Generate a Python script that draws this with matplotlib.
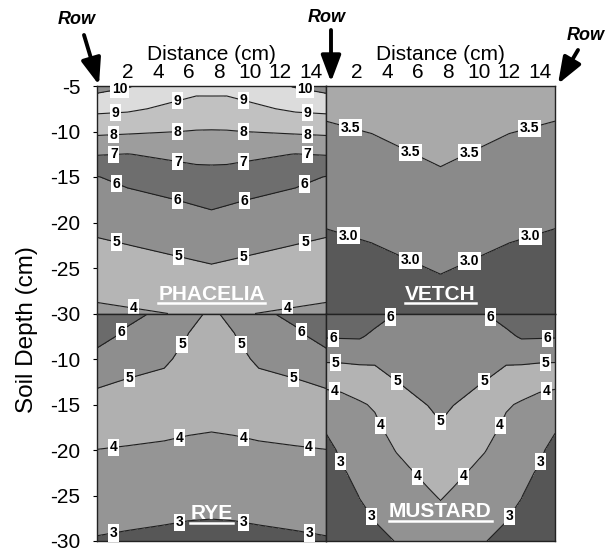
import numpy as np
import matplotlib
matplotlib.use("Agg")
import matplotlib.pyplot as plt
from matplotlib.patches import FancyArrowPatch
from matplotlib.lines import Line2D

plt.rcParams['font.family'] = ['Liberation Sans', 'DejaVu Sans']
plt.rcParams['axes.unicode_minus'] = False

# Sampling depths (cm), shared by all four plots, top to bottom
depth = [-5, -7.5, -10, -12.5, -15, -17.5, -20, -22.5, -25, -27.5, -30]

# ---- Phacelia ----
phacelia_x = [0, 2, 6.5, 7.5, 8.5, 13, 15]
phacelia_z = [
    [10.36, 10.07, 9.29, 9.30, 9.29, 10.07, 10.36],
    [9.23, 9.15, 8.63, 8.62, 8.63, 9.15, 9.23],
    [8.20, 8.13, 7.96, 7.95, 7.96, 8.13, 8.20],
    [7.05, 6.98, 7.27, 7.27, 7.27, 6.98, 7.05],
    [5.97, 6.24, 6.67, 6.70, 6.67, 6.24, 5.97],
    [5.60, 5.74, 6.11, 6.20, 6.11, 5.74, 5.60],
    [5.24, 5.36, 5.68, 5.75, 5.68, 5.36, 5.24],
    [4.875, 4.99, 5.27, 5.34, 5.27, 4.99, 4.875],
    [4.53, 4.62, 4.87, 4.93, 4.87, 4.62, 4.53],
    [4.18, 4.26, 4.47, 4.52, 4.47, 4.26, 4.18],
    [3.83, 3.90, 4.07, 4.10, 4.07, 3.90, 3.83],
]
phacelia_bands = [3, 4, 5, 6, 7, 8, 9, 10, 11]
phacelia_colors = ['#9a9a9a', '#b5b5b5', '#8f8f8f', '#6e6e6e', '#9d9d9d',
                   '#c1c1c1', '#dcdcdc', '#8e8e8e']
phacelia_lines = [4, 5, 6, 7, 8, 9, 10]
phacelia_labels = {
    10: [(1.5, -5.6), (13.6, -5.6)],
    9: [(1.2, -8.1), (5.3, -6.7), (9.6, -6.7), (13.8, -8.1)],
    8: [(1.1, -10.3), (5.3, -10.1), (9.6, -10.1), (13.8, -10.3)],
    7: [(1.1, -12.5), (5.3, -13.3), (9.6, -13.3), (13.8, -12.5)],
    6: [(1.4, -15.3), (5.3, -17.4), (9.6, -17.4), (13.5, -15.3)],
    5: [(1.3, -22.0), (5.3, -23.8), (9.6, -23.8), (13.6, -22.0)],
    4: [(2.4, -29.4), (12.5, -29.4)],
}

# ---- Vetch ----
vetch_x = [0, 3, 7.5, 12, 15]
vetch_z = [
    [3.67, 3.72, 3.87, 3.72, 3.67],
    [3.56, 3.61, 3.77, 3.61, 3.56],
    [3.45, 3.51, 3.66, 3.51, 3.45],
    [3.35, 3.40, 3.56, 3.40, 3.35],
    [3.24, 3.30, 3.45, 3.30, 3.24],
    [3.14, 3.20, 3.34, 3.20, 3.14],
    [3.03, 3.09, 3.24, 3.09, 3.03],
    [2.92, 2.99, 3.13, 2.99, 2.92],
    [2.82, 2.88, 3.03, 2.88, 2.82],
    [2.71, 2.78, 2.92, 2.78, 2.71],
    [2.61, 2.68, 2.81, 2.68, 2.61],
]
vetch_bands = [2.5, 3.0, 3.5, 4.0]
vetch_colors = ['#595959', '#8a8a8a', '#a9a9a9']
vetch_lines = [3.0, 3.5]
vetch_labels = {
    3.5: [(1.6, -9.6), (5.5, -12.4), (9.4, -12.4), (13.3, -9.6)],
    3.0: [(1.5, -21.4), (5.5, -24.2), (9.4, -24.2), (13.4, -21.4)],
}

# ---- Rye ----
rye_x = [0, 2, 4.4, 6, 7.5, 9, 10.6, 13, 15]
rye_z = [
    [6.90, 6.25, 5.81, 5.19, 4.90, 5.19, 5.81, 6.25, 6.90],
    [6.31, 5.81, 5.47, 4.97, 4.73, 4.97, 5.47, 5.81, 6.31],
    [5.71, 5.37, 5.13, 4.75, 4.56, 4.75, 5.13, 5.37, 5.71],
    [5.12, 4.94, 4.81, 4.53, 4.39, 4.53, 4.81, 4.94, 5.12],
    [4.71, 4.60, 4.49, 4.31, 4.22, 4.31, 4.49, 4.60, 4.71],
    [4.35, 4.26, 4.18, 4.09, 4.05, 4.09, 4.18, 4.26, 4.35],
    [3.99, 3.94, 3.88, 3.84, 3.81, 3.84, 3.88, 3.94, 3.99],
    [3.73, 3.68, 3.61, 3.57, 3.54, 3.57, 3.61, 3.68, 3.73],
    [3.46, 3.41, 3.34, 3.30, 3.28, 3.30, 3.34, 3.41, 3.46],
    [3.20, 3.14, 3.08, 3.03, 3.01, 3.03, 3.08, 3.14, 3.20],
    [2.94, 2.88, 2.81, 2.76, 2.74, 2.76, 2.81, 2.88, 2.94],
]
rye_bands = [2, 3, 4, 5, 6, 7]
rye_colors = ['#575757', '#959595', '#b0b0b0', '#8e8e8e', '#6b6b6b']
rye_lines = [3, 4, 5, 6]
rye_labels = {
    6: [(1.9, -7.6), (13.1, -7.6)],
    5: [(5.4, -8.2), (2.1, -12.0), (9.6, -8.2), (12.9, -12.0)],
    4: [(1.1, -19.6), (5.4, -18.7), (9.6, -18.7), (13.9, -19.6)],
    3: [(1.1, -29.1), (5.4, -27.9), (9.6, -27.9), (13.9, -29.1)],
}

# ---- Mustard ----
mustard_x = [0, 1, 2.2, 3.2, 4.6, 6.7, 7.5, 8.3, 10.4, 11.8, 12.8, 14, 15]
mustard_z = [
    [6.95, 7.01, 7.03, 6.41, 5.98, 5.81, 5.78, 5.81, 5.98, 6.41, 7.03, 7.01, 6.95],
    [6.07, 6.09, 6.11, 5.78, 5.66, 5.61, 5.62, 5.61, 5.66, 5.78, 6.11, 6.09, 6.07],
    [5.15, 5.17, 5.19, 5.15, 5.32, 5.42, 5.46, 5.42, 5.32, 5.15, 5.19, 5.17, 5.15],
    [4.19, 4.20, 4.44, 4.60, 4.99, 5.22, 5.30, 5.22, 4.99, 4.60, 4.44, 4.20, 4.19],
    [3.62, 3.77, 3.91, 4.09, 4.67, 5.02, 5.14, 5.02, 4.67, 4.09, 3.91, 3.77, 3.62],
    [3.13, 3.47, 3.69, 3.83, 4.35, 4.75, 4.95, 4.75, 4.35, 3.83, 3.69, 3.47, 3.13],
    [2.65, 3.18, 3.47, 3.63, 4.03, 4.47, 4.65, 4.47, 4.03, 3.63, 3.47, 3.18, 2.65],
    [2.17, 2.89, 3.25, 3.43, 3.77, 4.18, 4.36, 4.18, 3.77, 3.43, 3.25, 2.89, 2.17],
    [1.69, 2.60, 3.03, 3.23, 3.52, 3.91, 4.06, 3.91, 3.52, 3.23, 3.03, 2.60, 1.69],
    [1.21, 2.31, 2.81, 3.03, 3.27, 3.65, 3.79, 3.65, 3.27, 3.03, 2.81, 2.31, 1.21],
    [0.73, 2.01, 2.59, 2.83, 3.02, 3.39, 3.53, 3.39, 3.02, 2.83, 2.59, 2.01, 0.73],
]
mustard_bands = [0, 3, 4, 5, 6, 7.5]
mustard_colors = ['#565656', '#929292', '#b3b3b3', '#8a8a8a', '#686868']
mustard_lines = [3, 4, 5, 6]
mustard_labels = {
    6: [(4.3, -5.6), (0.5, -7.7), (10.7, -5.6), (14.5, -7.7)],
    5: [(0.6, -10.4), (4.7, -12.3), (7.5, -17.2), (10.3, -12.3), (14.4, -10.4)],
    4: [(0.6, -13.0), (3.7, -17.2), (6.0, -22.9), (9.0, -22.9), (11.3, -17.2), (14.4, -13.0)],
    3: [(0.9, -21.3), (2.9, -27.4), (12.1, -27.4), (14.1, -21.3)],
}

panels = [
    ("PHACELIA", phacelia_x, phacelia_z, phacelia_bands, phacelia_colors,
     phacelia_lines, phacelia_labels, '{:g}', (7.5, -27.9)),
    ("VETCH", vetch_x, vetch_z, vetch_bands, vetch_colors,
     vetch_lines, vetch_labels, '{:.1f}', (7.5, -27.9)),
    ("RYE", rye_x, rye_z, rye_bands, rye_colors,
     rye_lines, rye_labels, '{:g}', (7.5, -27.0)),
    ("MUSTARD", mustard_x, mustard_z, mustard_bands, mustard_colors,
     mustard_lines, mustard_labels, '{:g}', (7.5, -26.8)),
]

distance_ticks = [2, 4, 6, 8, 10, 12, 14]


def snap_to_line(ax, cs, level, pt):
    """Nearest point (data coords) on the drawn contour of `level`."""
    idx = list(cs.levels).index(level)
    tr = ax.transData
    p = tr.transform(pt)
    best, best_d = pt, np.inf
    for seg in cs.allsegs[idx]:
        if len(seg) < 2:
            continue
        d = tr.transform(seg)
        a, b = d[:-1], d[1:]
        ab = b - a
        L2 = (ab ** 2).sum(axis=1)
        L2[L2 == 0] = 1e-12
        t = np.clip(((p - a) * ab).sum(axis=1) / L2, 0, 1)
        proj = a + ab * t[:, None]
        dist = np.hypot(*(proj - p).T)
        k = dist.argmin()
        if dist[k] < best_d:
            best_d = dist[k]
            best = tr.inverted().transform(proj[k])
    return best


W, H = 612, 551
fig = plt.figure(figsize=(W / 100, H / 100), dpi=100)

left0, pw = 97 / W, 229 / W
ph = 227.5 / H
bottom_row = 1 - 541 / H
top_row = bottom_row + ph
positions = [
    (left0, top_row), (left0 + pw, top_row),
    (left0, bottom_row), (left0 + pw, bottom_row),
]

titles = []
for i, (name, xs, zs, bands, cols, lines, labels, fmt, tpos) in enumerate(panels):
    ax = fig.add_axes([positions[i][0], positions[i][1], pw, ph])
    ax.set_xlim(0, 15)
    ax.set_ylim(-30, -5)
    z = np.array(zs)
    ax.contourf(xs, depth, z, levels=bands, colors=cols)
    cs = ax.contour(xs, depth, z, levels=lines, colors='#1e1e1e', linewidths=0.8)
    for lev, pts in labels.items():
        for pt in pts:
            lx, ly = snap_to_line(ax, cs, lev, pt)
            ax.text(lx, ly, fmt.format(lev), fontsize=10, fontweight='bold',
                    color='black', ha='center', va='center', zorder=5,
                    bbox=dict(boxstyle='square,pad=0.12', fc='white', ec='none'))
    for s in ax.spines.values():
        s.set_color('#222222')
        s.set_linewidth(1.0)
    t = ax.text(tpos[0], tpos[1], name, color='white', fontsize=15,
                fontweight='bold', ha='center', va='center', zorder=6)
    titles.append(t)

    if i < 2:
        ax.xaxis.tick_top()
        ax.set_xticks(distance_ticks)
        ax.tick_params(axis='x', length=0, labelsize=15, pad=3)
        ax.xaxis.set_label_position('top')
        ax.set_xlabel('Distance (cm)', fontsize=15, labelpad=2)
    else:
        ax.set_xticks([])
    if i % 2 == 0:
        yt = [-5, -10, -15, -20, -25, -30] if i == 0 else [-10, -15, -20, -25, -30]
        ax.set_yticks(yt)
        ax.tick_params(axis='y', length=3, labelsize=15, pad=9)
    else:
        ax.set_yticks([])

fig.text(27 / W, 1 - 330 / H, 'Soil Depth (cm)', rotation=90, fontsize=17.5,
         ha='center', va='center')

# Row markers with arrows
rows = [((77, 20), (84, 35), (99, 85)),
        ((327, 17), (331, 30), (331, 82)),
        ((586, 35), (578, 50), (558, 84))]
for (tx, ty), (ax0, ay0), (ax1, ay1) in rows:
    fig.text(tx / W, 1 - ty / H, 'Row', fontsize=13, fontweight='bold',
             fontstyle='italic', ha='center', va='center')
    arr = FancyArrowPatch((ax0 / W, 1 - ay0 / H), (ax1 / W, 1 - ay1 / H),
                          transform=fig.transFigure,
                          arrowstyle='-|>,head_length=0.8,head_width=0.3',
                          mutation_scale=20, lw=2.8, color='black',
                          shrinkA=0, shrinkB=0)
    fig.add_artist(arr)

# Underline the plot names
fig.canvas.draw()
renderer = fig.canvas.get_renderer()
inv = fig.transFigure.inverted()
for t in titles:
    bb = t.get_window_extent(renderer)
    (x0, y0), (x1, _) = inv.transform([[bb.x0, bb.y0], [bb.x1, bb.y0]])
    fig.add_artist(Line2D([x0, x1], [y0 + 0.5 / H, y0 + 0.5 / H],
                          transform=fig.transFigure, color='white', lw=1.8, zorder=7))

fig.savefig('out.png', dpi=100)
